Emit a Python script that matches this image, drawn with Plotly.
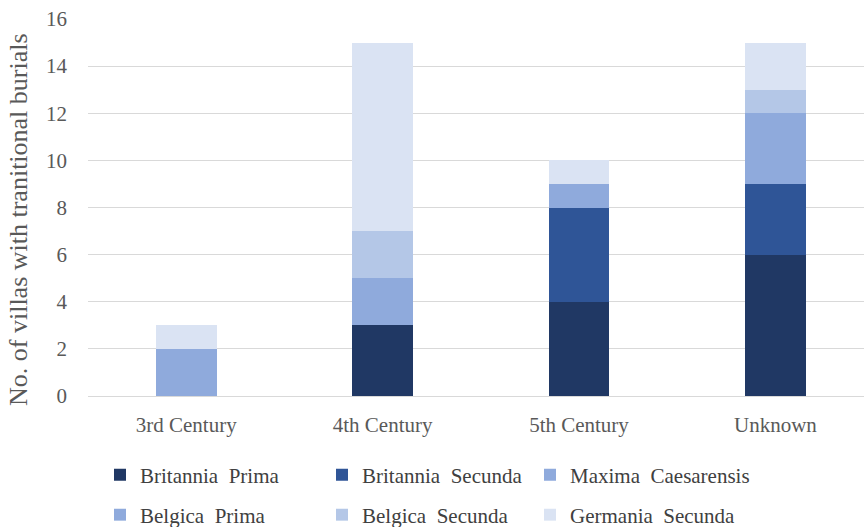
import plotly.graph_objects as go

categories = ["3rd Century", "4th Century", "5th Century", "Unknown"]
series_names = ["Britannia  Prima", "Britannia  Secunda", "Maxima  Caesarensis",
                "Belgica  Prima", "Belgica  Secunda", "Germania  Secunda"]
britannia_prima = [0, 3, 4, 6]
britannia_secunda = [0, 0, 4, 3]
maxima_caesarensis = [2, 2, 1, 3]
belgica_prima = [0, 0, 0, 0]
belgica_secunda = [0, 2, 0, 1]
germania_secunda = [1, 8, 1, 2]
y_ticks = [0, 2, 4, 6, 8, 10, 12, 14, 16]
y_title = "No. of villas with tranitional burials"

values = [britannia_prima, britannia_secunda, maxima_caesarensis,
          belgica_prima, belgica_secunda, germania_secunda]
colors = ["#203864", "#2F5597", "#8FAADC", "#8FAADC", "#B4C7E7", "#DAE3F3"]

W, H = 864, 527
ml, mt, mb = 88, 19, 131
plot_h = H - mt - mb
plot_w = W - ml

def py(pix):
    return (H - mb - pix) / plot_h

def px(pix):
    return (pix - ml) / plot_w

# legend entry text start (px) and row centre (px)
leg_text_x = [140, 362, 570, 140, 362, 570]
leg_row_y = [475, 475, 475, 515, 515, 515]

FONT = "Liberation Serif"
fig = go.Figure()
layout_legends = {}
for i, (name, vals, col) in enumerate(zip(series_names, values, colors)):
    key = "legend" if i == 0 else f"legend{i + 1}"
    fig.add_trace(go.Bar(x=categories, y=vals, name=name, marker_color=col,
                         marker_line_width=0, width=0.31, legend=key, showlegend=True))
    layout_legends[key] = dict(
        orientation="h", xanchor="left", yanchor="middle",
        x=px(leg_text_x[i] - 40), y=py(leg_row_y[i]),
        font=dict(family=FONT, size=21, color="#404040"),
        bgcolor="rgba(0,0,0,0)")

fig.update_layout(
    width=W, height=H, barmode="stack", showlegend=True,
    margin=dict(l=ml, r=0, t=mt, b=mb, autoexpand=False),
    plot_bgcolor="white", paper_bgcolor="white",
    font=dict(family=FONT, color="#595959"),
    xaxis=dict(range=[-0.5, -0.5 + plot_w / 196.4], showline=False, ticks="",
               tickfont=dict(size=21, color="#595959"), ticklabelstandoff=14),
    yaxis=dict(range=[0, 16], tickvals=y_ticks, showgrid=True, gridcolor="#D9D9D9",
               gridwidth=1.3, zeroline=True, zerolinecolor="#D9D9D9", zerolinewidth=1.3,
               tickfont=dict(size=21, color="#595959"), ticklabelstandoff=20),
    annotations=[dict(text=y_title, textangle=-90, xref="paper", yref="paper",
                      x=px(18), y=py(220), xanchor="center", yanchor="middle",
                      showarrow=False, font=dict(family=FONT, size=26, color="#595959"))],
    **layout_legends,
)
fig.write_html("out.html")
